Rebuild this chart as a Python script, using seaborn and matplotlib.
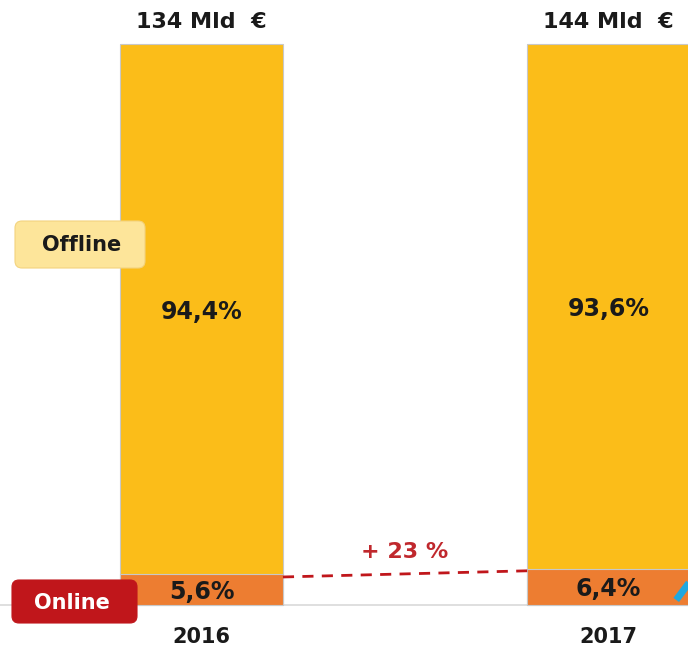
import matplotlib
matplotlib.use("Agg")
import matplotlib.pyplot as plt
from matplotlib.patches import FancyBboxPatch
import pandas as pd
import seaborn as sns

# === Data ===
years = ["2016", "2017"]
totals = ["134 Mld  €", "144 Mld  €"]
offline_pct = [94.4, 93.6]
online_pct = [5.6, 6.4]
growth_label = "+ 23 %"

OFFLINE = "#fbbd19"
ONLINE = "#ed7d31"
RED = "#c0161b"

df = pd.DataFrame({"year": years, "offline": offline_pct, "online": online_pct})
df["total"] = df["offline"] + df["online"]

sns.set_theme(style="white")
plt.rcParams["font.family"] = ["DejaVu Sans"]

fig = plt.figure(figsize=(6.88, 6.48), dpi=100)
ax = fig.add_axes([0, 0, 1, 1])

# offline on top of online -> draw full stack first, then online part
sns.barplot(data=df, x="year", y="total", color=OFFLINE, saturation=1,
            width=0.4, edgecolor="#c8c8c8", linewidth=0.8, ax=ax, zorder=2)
sns.barplot(data=df, x="year", y="online", color=ONLINE, saturation=1,
            width=0.4, edgecolor="#c8c8c8", linewidth=0.8, ax=ax, zorder=3)

ax.set_xlim(-0.495, 1.195)
ax.set_ylim(-7.66, 107.84)
ax.axis("off")
ax.axhline(0, color="#d9d9d9", lw=1.2, zorder=1)

for i, row in df.iterrows():
    ax.text(i, row["online"] + row["offline"] / 2 - 0.5, f"{row['offline']:.1f}%".replace(".", ","),
            ha="center", va="center", fontsize=17, fontweight="bold", color="#1a1a1a", zorder=5)
    ax.text(i, row["online"] / 2 - 0.4, f"{row['online']:.1f}%".replace(".", ","),
            ha="center", va="center", fontsize=17, fontweight="bold", color="#1a1a1a", zorder=5)
    ax.text(i, row["total"] + 3.9, totals[i], ha="center", va="center",
            fontsize=16, fontweight="bold", color="#1a1a1a")
    ax.text(i, -5.7, row["year"], ha="center", va="center",
            fontsize=15, fontweight="bold", color="#1a1a1a")

# growth of online share
ax.plot([0.2, 0.8], [online_pct[0] - 0.6, online_pct[1] - 0.3],
        color=RED, lw=2, ls=(0, (4, 3)), zorder=4)
ax.text(0.5, 9.4, growth_label, ha="center", va="center",
        fontsize=16, fontweight="bold", color="#c0282d")

# partial blue arrow at right edge (cropped in original)
ax.plot([1.166, 1.2], [0.9, 4.2], color="#1fa8e0", lw=5, solid_capstyle="butt",
        zorder=6, clip_on=True)

# legend-like labels
off_box = FancyBboxPatch((0.15, 3.80), 1.30, 0.47, boxstyle="round,pad=0,rounding_size=0.07",
                         transform=fig.dpi_scale_trans, facecolor="#fde59a",
                         edgecolor="#f3d37e", lw=0.8, zorder=10)
fig.add_artist(off_box)
fig.text(0.82 / 6.88, (3.80 + 0.235) / 6.48, "Offline", ha="center", va="center",
         fontsize=15, fontweight="bold", color="#1a1a1a", zorder=11)

on_box = FancyBboxPatch((0.12, 0.25), 1.25, 0.43, boxstyle="round,pad=0,rounding_size=0.07",
                        transform=fig.dpi_scale_trans, facecolor=RED,
                        edgecolor=RED, lw=0.8, zorder=10)
fig.add_artist(on_box)
fig.text(0.715 / 6.88, (0.25 + 0.20) / 6.48, "Online", ha="center", va="center",
         fontsize=15, fontweight="bold", color="white", zorder=11)

fig.savefig("out.png", dpi=100)
